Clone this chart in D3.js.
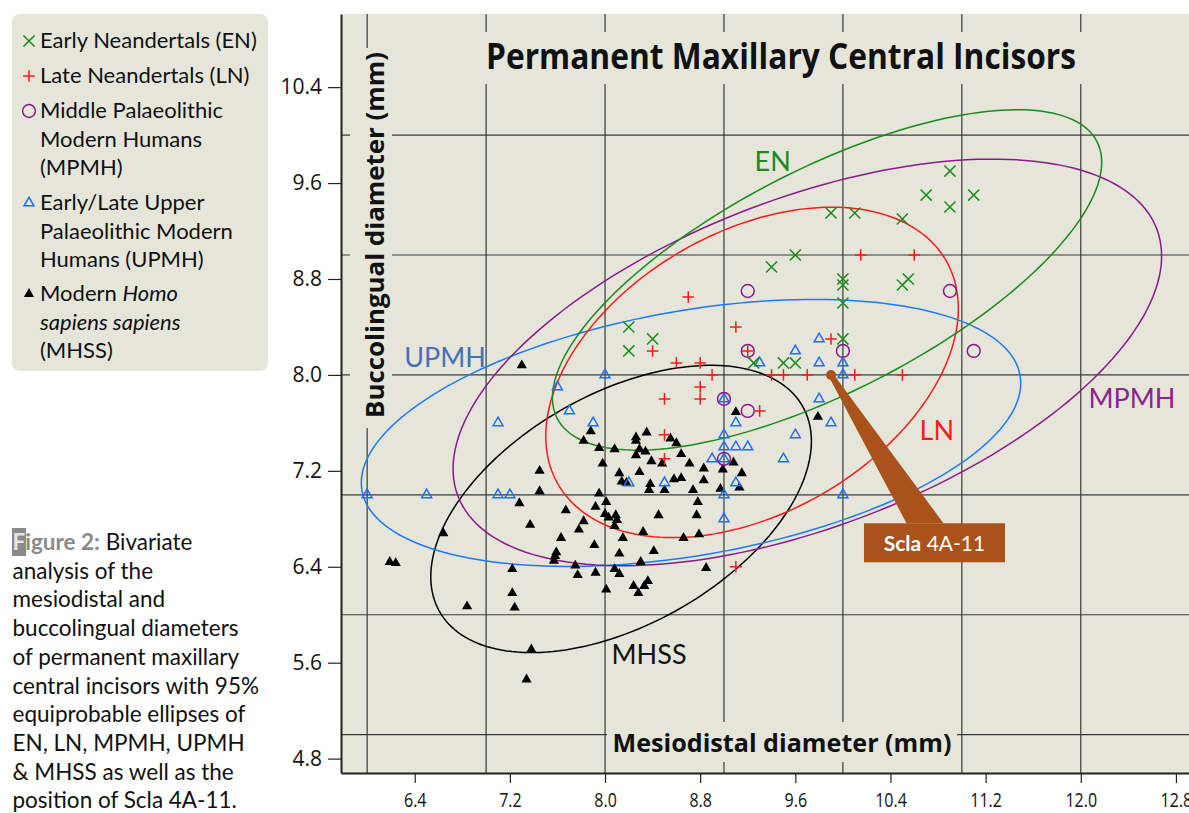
<!DOCTYPE html>
<html>
<head>
<meta charset="utf-8">
<script src="https://cdn.jsdelivr.net/npm/d3@7"></script>
<style>
  body { margin: 0; background: #fff; }
  svg { display: block; }
</style>
</head>
<body>
<svg id="chart" width="1189" height="813"></svg>
<script>
// values (mm)
const xTicks = [6.4, 7.2, 8.0, 8.8, 9.6, 10.4, 11.2, 12.0, 12.8];
const yTicks = [4.8, 5.6, 6.4, 7.2, 8.0, 8.8, 9.6, 10.4];
const xGrid = [6, 7, 8, 9, 10, 11, 12];
const yGrid = [5, 6, 7, 8, 9, 10];

// Early Neandertals
const en = [[8.2,8.4],[8.2,8.2],[8.4,8.3],[9.25,8.1],[9.5,8.1],[9.6,8.1],[10.0,8.3],[10.0,8.6],
  [10.0,8.75],[10.0,8.8],[9.4,8.9],[9.6,9.0],[9.9,9.35],[10.1,9.35],[10.5,9.3],[10.5,8.75],
  [10.55,8.8],[10.7,9.5],[10.9,9.7],[10.9,9.4],[11.1,9.5]];
// Late Neandertals
const ln = [[8.7,8.65],[8.4,8.2],[9.1,8.4],[8.6,8.1],[8.8,8.1],[8.9,8.0],[8.8,7.9],[8.5,7.8],
  [8.8,7.8],[9.2,8.2],[9.9,8.3],[9.4,8.0],[9.5,8.0],[9.7,8.0],[10.1,8.0],[10.5,8.0],[9.3,7.7],
  [8.5,7.5],[8.5,7.3],[10.15,9.0],[10.6,9.0],[9.1,6.4]];
// Middle Palaeolithic modern humans
const mpmh = [[9.2,8.7],[9.2,8.2],[10.0,8.2],[10.9,8.7],[11.1,8.2],[9.0,7.8],[9.2,7.7],[9.0,7.3]];
// Upper Palaeolithic modern humans
const upmh = [[6.0,7.0],[6.5,7.0],[7.1,7.0],[7.2,7.0],[7.1,7.6],[7.6,7.9],[7.7,7.7],[7.9,7.6],
  [8.0,8.0],[8.2,7.1],[8.5,7.1],[8.9,7.3],[9.0,7.3],[9.0,7.4],[9.1,7.4],[9.2,7.4],[9.0,7.5],
  [9.0,7.8],[9.1,7.6],[9.1,7.1],[9.0,7.0],[9.0,6.8],[9.3,8.1],[9.5,7.3],[9.6,7.5],[9.6,8.2],
  [9.8,8.3],[9.8,8.1],[9.8,7.8],[9.9,7.6],[10.0,8.1],[10.0,8.0],[10.0,7.0]];
// Modern Homo sapiens sapiens
const mhss = [[7.88,7.53],[8.26,7.48],[8.35,7.52],[8.26,7.45],[8.55,7.47],[8.60,7.43],[7.82,7.45],
  [7.95,7.39],[8.08,7.38],[8.29,7.38],[8.34,7.36],[8.26,7.33],[8.39,7.28],[8.48,7.26],[8.64,7.34],
  [8.71,7.26],[7.98,7.26],[7.45,7.20],[7.45,7.03],[8.29,7.19],[8.12,7.18],[8.14,7.11],[8.18,7.10],
  [8.38,7.09],[8.37,7.04],[8.50,7.04],[8.58,7.13],[8.64,7.14],[8.83,7.22],[8.83,7.12],[8.74,7.04],
  [8.99,7.21],[9.08,7.27],[9.15,7.18],[9.13,7.06],[8.97,7.05],[8.78,6.94],[8.77,6.83],[8.79,6.67],
  [8.66,6.64],[8.32,6.69],[8.45,6.83],[7.95,7.01],[8.01,6.94],[7.92,6.90],[8.00,6.84],[8.03,6.81],
  [8.09,6.83],[8.10,6.79],[8.08,6.74],[7.67,6.87],[7.82,6.78],[7.78,6.71],[7.37,6.75],[7.28,6.93],
  [7.63,6.64],[8.15,6.64],[7.91,6.58],[8.12,6.51],[8.41,6.53],[8.30,6.44],[7.59,6.52],[7.58,6.49],
  [7.57,6.45],[7.75,6.41],[7.77,6.33],[7.92,6.35],[8.08,6.38],[8.12,6.34],[8.01,6.21],[8.24,6.24],
  [8.28,6.18],[8.33,6.24],[8.36,6.28],[8.85,6.39],[7.22,6.38],[7.22,6.18],[7.24,6.06],[6.84,6.07],
  [6.64,6.68],[6.19,6.44],[6.24,6.43],[7.38,5.71],[7.34,5.46],[7.30,8.08],[9.10,7.69],[9.79,7.65]];

// 95% ellipses: centre x, centre y, semi-major, semi-minor (mm), tilt (deg)
const enEllipse = [9.867, 8.792, 2.546, 0.93, 26.9];
const lnEllipse = [9.236, 8.021, 1.879, 1.173, 29.5];
const mpmhEllipse = [9.701, 8.104, 3.142, 1.370, 20.7];
const upmhEllipse = [8.723, 7.516, 2.808, 1.020, 9.83];
const mhssEllipse = [8.135, 6.882, 1.750, 0.966, 29.05];

// ellipse labels (mm)
const ellipseLabels = [
  {text: "EN", at: [9.41, 9.70], color: "#1c8a1c"},
  {text: "LN", at: [10.79, 7.46], color: "#ff1a1a"},
  {text: "MPMH", at: [12.43, 7.72], color: "#8a268a"},
  {text: "UPMH", at: [6.655, 8.07], color: "#4a6fb5"},
  {text: "MHSS", at: [8.37, 5.59], color: "#111"}
];

const scla = [9.9, 8.0];
const sclaLabelAt = [10.77, 6.60];

const svg = d3.select("#chart");
const bg = "#e5e5da";
const plot = {left: 341, right: 1189, top: 14, bottom: 773};

const x = d3.scaleLinear().domain([5.78, 12.91]).range([plot.left, plot.right]);
const y = d3.scaleLinear().domain([4.68, 11.01]).range([plot.bottom, plot.top]);

// plot background
svg.append("rect")
  .attr("x", plot.left).attr("y", plot.top)
  .attr("width", plot.right - plot.left).attr("height", plot.bottom - plot.top)
  .attr("fill", bg);

// grid at whole millimetres
const grid = svg.append("g").attr("stroke", "#3a3a3a").attr("stroke-width", 1.2);
grid.selectAll(".vg").data(xGrid).enter().append("line")
  .attr("x1", d => x(d)).attr("x2", d => x(d))
  .attr("y1", plot.top).attr("y2", plot.bottom);
grid.selectAll(".hg").data(yGrid).enter().append("line")
  .attr("x1", plot.left).attr("x2", plot.right)
  .attr("y1", d => y(d)).attr("y2", d => y(d));

// title and axis titles sit on boxes that hide the grid
const titleFont = "'Open Sans', sans-serif";
svg.append("rect").attr("x", 478).attr("y", 32).attr("width", 610).attr("height", 52).attr("fill", bg);
svg.append("text")
  .attr("x", 781).attr("y", 69)
  .attr("text-anchor", "middle")
  .attr("textLength", 590).attr("lengthAdjust", "spacingAndGlyphs")
  .style("font-family", titleFont).style("font-weight", 700).style("font-size", "35px")
  .style("fill", "#111")
  .text("Permanent Maxillary Central Incisors");

svg.append("rect").attr("x", 607).attr("y", 722).attr("width", 350).attr("height", 40).attr("fill", bg);
svg.append("text")
  .attr("x", 782).attr("y", 752)
  .attr("text-anchor", "middle")
  .attr("textLength", 339).attr("lengthAdjust", "spacingAndGlyphs")
  .style("font-family", titleFont).style("font-weight", 700).style("font-size", "25px")
  .style("fill", "#111")
  .text("Mesiodistal diameter (mm)");

svg.append("rect").attr("x", 350).attr("y", 48).attr("width", 42).attr("height", 380).attr("fill", bg);
svg.append("text")
  .attr("transform", "translate(384,235) rotate(-90)")
  .attr("text-anchor", "middle")
  .attr("textLength", 366).attr("lengthAdjust", "spacingAndGlyphs")
  .style("font-family", titleFont).style("font-weight", 700).style("font-size", "25px")
  .style("fill", "#111")
  .text("Buccolingual diameter (mm)");

// axes
const yAxis = svg.append("g")
  .attr("transform", `translate(${plot.left},0)`)
  .call(d3.axisLeft(y).tickValues(yTicks).tickFormat(d3.format(".1f")).tickSize(13).tickSizeOuter(0).tickPadding(6));
yAxis.select(".domain").attr("stroke", "#222").attr("stroke-width", 2);
yAxis.selectAll(".tick line").attr("stroke", "#222").attr("stroke-width", 1.2);
yAxis.selectAll(".tick text")
  .style("font-family", "'Open Sans', sans-serif").style("font-size", "21px").style("fill", "#111");

const xAxis = svg.append("g")
  .attr("transform", `translate(0,${plot.bottom})`)
  .call(d3.axisBottom(x).tickValues(xTicks).tickFormat(d3.format(".1f")).tickSize(10).tickSizeOuter(0).tickPadding(10));
xAxis.select(".domain").attr("stroke", "#222").attr("stroke-width", 2);
xAxis.selectAll(".tick line").attr("stroke", "#222").attr("stroke-width", 1.2);
// narrow the bottom tick labels, like the condensed face of the original
xAxis.selectAll(".tick text")
  .style("font-family", "'Open Sans', sans-serif").style("font-size", "20px").style("fill", "#111")
  .each(function() {
    const w = this.getComputedTextLength();
    d3.select(this).attr("textLength", w * 0.8).attr("lengthAdjust", "spacingAndGlyphs");
  });

// ellipses
function ellipsePoints(p) {
  const [cx, cy, a, b, deg] = p;
  const t = deg * Math.PI / 180;
  return d3.range(0, 360, 2).map(k => {
    const s = k * Math.PI / 180;
    return [cx + a * Math.cos(s) * Math.cos(t) - b * Math.sin(s) * Math.sin(t),
            cy + a * Math.cos(s) * Math.sin(t) + b * Math.sin(s) * Math.cos(t)];
  });
}
const ellipseLine = d3.line().x(d => x(d[0])).y(d => y(d[1])).curve(d3.curveLinearClosed);

const ellipses = [
  {p: mhssEllipse, color: "#000"},
  {p: upmhEllipse, color: "#1a7aff"},
  {p: mpmhEllipse, color: "#8a1a8a"},
  {p: lnEllipse, color: "#ff1a1a"},
  {p: enEllipse, color: "#1a8a1a"}
];
svg.append("g").selectAll("path").data(ellipses).enter().append("path")
  .attr("d", d => ellipseLine(ellipsePoints(d.p)))
  .attr("fill", "none")
  .attr("stroke", d => d.color)
  .attr("stroke-width", 1.5);

svg.append("g").selectAll("text").data(ellipseLabels).enter().append("text")
  .attr("x", d => x(d.at[0])).attr("y", d => y(d.at[1]))
  .attr("text-anchor", "middle")
  .style("font-family", "Lato, sans-serif").style("font-size", "27px")
  .style("fill", d => d.color)
  .text(d => d.text);

// points
const series = [
  {data: mhss, type: d3.symbolTriangle, size: 45, fill: "#000", stroke: "none"},
  {data: upmh, type: d3.symbolTriangle2, size: 70, fill: "none", stroke: "#1a6fff"},
  {data: mpmh, type: d3.symbolCircle, size: 130, fill: "none", stroke: "#8a1a8a"},
  {data: ln, type: d3.symbolPlus, size: 46, fill: "none", stroke: "#ff1a1a"},
  {data: en, type: d3.symbolX, size: 82, fill: "none", stroke: "#1a8a1a"}
];
series.forEach(s => {
  svg.append("g").selectAll("path").data(s.data).enter().append("path")
    .attr("transform", d => `translate(${x(d[0])},${y(d[1])})`)
    .attr("d", d3.symbol().type(s.type).size(s.size))
    .attr("fill", s.fill)
    .attr("stroke", s.stroke)
    .attr("stroke-width", 1.5);
});

// Scla 4A-11 callout
const brown = "#a9521a";
const sx = x(scla[0]), sy = y(scla[1]);
const lx = x(sclaLabelAt[0]), ly = y(sclaLabelAt[1]);
const boxW = 141, boxH = 39;
svg.append("path")
  .attr("d", `M${sx - 3},${sy}L${sx + 3},${sy}L${lx + 9},${ly - boxH / 2}L${lx - 28},${ly - boxH / 2}Z`)
  .attr("fill", brown);
svg.append("circle").attr("cx", sx).attr("cy", sy).attr("r", 5).attr("fill", brown);
svg.append("rect")
  .attr("x", lx - boxW / 2).attr("y", ly - boxH / 2)
  .attr("width", boxW).attr("height", boxH)
  .attr("fill", brown);
const sclaText = svg.append("text")
  .attr("x", lx).attr("y", ly + 8)
  .attr("text-anchor", "middle")
  .style("font-family", "Lato, sans-serif").style("font-size", "21px").style("fill", "#fff");
sclaText.append("tspan").style("font-weight", 700).text("Scla");
sclaText.append("tspan").text(" 4A-11");

// legend
svg.append("rect")
  .attr("x", 12).attr("y", 14).attr("width", 256).attr("height", 357)
  .attr("rx", 8).attr("fill", bg);

const legendItems = [
  {lines: [["Early Neandertals (EN)"]], y: 48, sym: series[4]},
  {lines: [["Late Neandertals (LN)"]], y: 83, sym: series[3]},
  {lines: [["Middle Palaeolithic"], ["Modern Humans"], ["(MPMH)"]], y: 118, sym: series[2]},
  {lines: [["Early/Late Upper"], ["Palaeolithic Modern"], ["Humans (UPMH)"]], y: 210, sym: series[1]},
  {lines: [["Modern ", "Homo"], ["", "sapiens sapiens"], ["(MHSS)"]], y: 301, sym: series[0]}
];
const legend = svg.append("g").style("font-family", "Lato, sans-serif").style("font-size", "22px").style("fill", "#111");
legendItems.forEach(item => {
  legend.append("path")
    .attr("transform", `translate(29,${item.y - 7})`)
    .attr("d", d3.symbol().type(item.sym.type).size(item.sym.size))
    .attr("fill", item.sym.fill)
    .attr("stroke", item.sym.stroke)
    .attr("stroke-width", 1.5);
  item.lines.forEach((ln, i) => {
    const t = legend.append("text").attr("x", 40).attr("y", item.y + i * 28.7);
    t.append("tspan").text(ln[0]);
    if (ln[1]) t.append("tspan").style("font-style", "italic").text(ln[1]);
  });
});

// caption
const caption = [
  "Bivariate",
  "analysis of the",
  "mesiodistal and",
  "buccolingual diameters",
  "of permanent maxillary",
  "central incisors with 95%",
  "equiprobable ellipses of",
  "EN, LN, MPMH, UPMH",
  "& MHSS as well as the",
  "position of Scla 4A-11."
];
const cap = svg.append("g").style("font-family", "Lato, sans-serif").style("font-size", "22.5px").style("fill", "#111");
cap.append("rect").attr("x", 12).attr("y", 528).attr("width", 14).attr("height", 28).attr("fill", "#8a8a8a");
caption.forEach((line, i) => {
  const t = cap.append("text").attr("x", 12.5).attr("y", 550 + i * 28.7);
  if (i === 0) {
    t.append("tspan").style("font-weight", 700).style("fill", "#e6e6e6").text("F");
    t.append("tspan").style("font-weight", 700).style("fill", "#8a8a8a").text("igure 2:");
    t.append("tspan").text(" " + line);
  } else {
    t.text(line);
  }
});
</script>
</body>
</html>
